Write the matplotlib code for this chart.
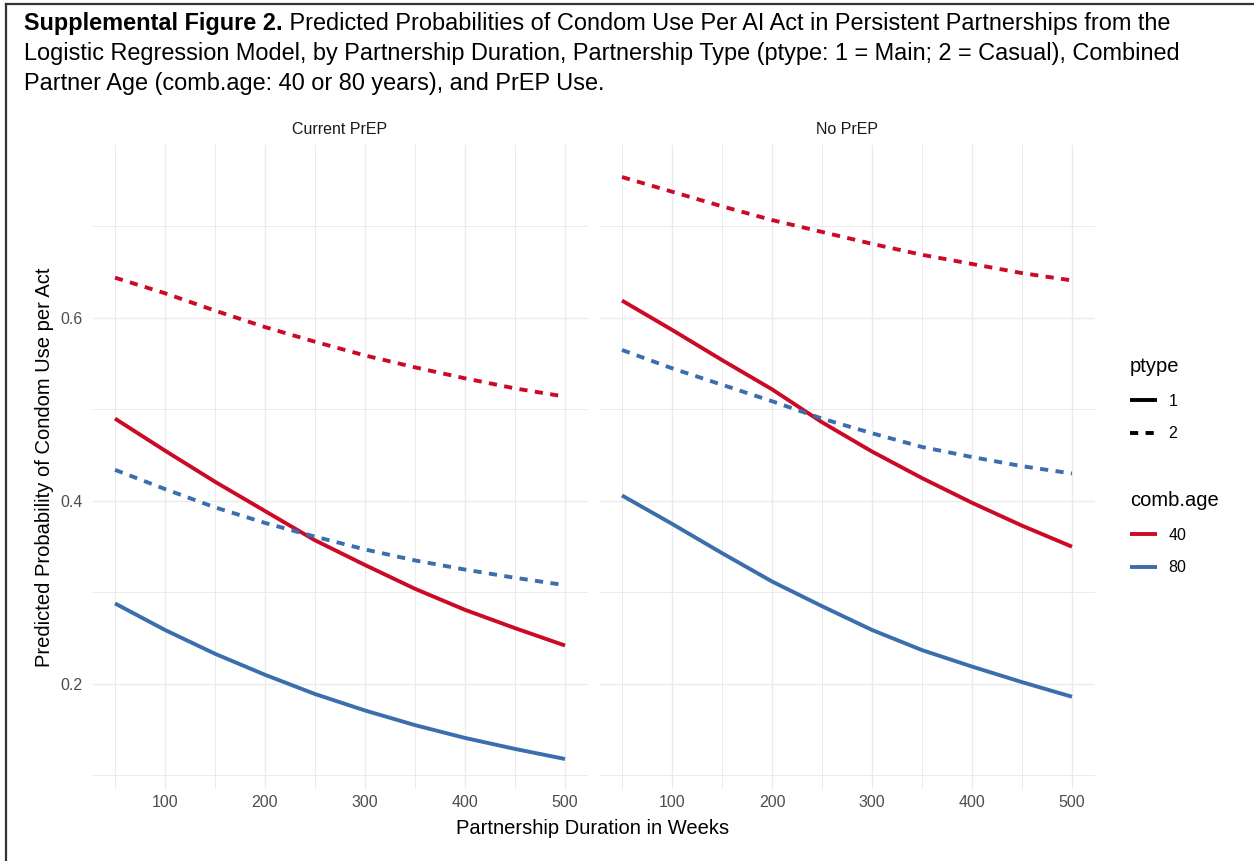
import numpy as np
import matplotlib
matplotlib.use("Agg")
import matplotlib.pyplot as plt
from matplotlib.lines import Line2D

plt.rcParams['font.family'] = ['Liberation Sans', 'DejaVu Sans']

# ---- data ----
weeks = [50, 100, 150, 200, 250, 300, 350, 400, 450, 500]
panels = ["Current PrEP", "No PrEP"]

# Current PrEP
cur_p1_a40 = [0.490, 0.455, 0.421, 0.389, 0.357, 0.330, 0.304, 0.281, 0.261, 0.242]
cur_p2_a40 = [0.644, 0.627, 0.608, 0.590, 0.574, 0.559, 0.546, 0.534, 0.523, 0.514]
cur_p1_a80 = [0.288, 0.259, 0.233, 0.210, 0.189, 0.171, 0.155, 0.141, 0.129, 0.118]
cur_p2_a80 = [0.434, 0.413, 0.393, 0.376, 0.361, 0.347, 0.335, 0.325, 0.316, 0.308]

# No PrEP
no_p1_a40 = [0.619, 0.587, 0.554, 0.522, 0.486, 0.454, 0.425, 0.398, 0.373, 0.350]
no_p2_a40 = [0.754, 0.738, 0.722, 0.707, 0.694, 0.681, 0.669, 0.659, 0.649, 0.641]
no_p1_a80 = [0.406, 0.375, 0.343, 0.312, 0.285, 0.259, 0.237, 0.219, 0.202, 0.186]
no_p2_a80 = [0.565, 0.545, 0.527, 0.509, 0.490, 0.474, 0.459, 0.448, 0.438, 0.430]

ptype_levels = ["1", "2"]
age_levels = ["40", "80"]

series = {
    "Current PrEP": [(cur_p1_a40, "1", "40"), (cur_p2_a40, "2", "40"),
                     (cur_p1_a80, "1", "80"), (cur_p2_a80, "2", "80")],
    "No PrEP": [(no_p1_a40, "1", "40"), (no_p2_a40, "2", "40"),
                (no_p1_a80, "1", "80"), (no_p2_a80, "2", "80")],
}

# ---- style ----
age_colors = {"40": "#CB0A26", "80": "#3A6EAD"}
DASH = (2.1, 1.9)
LW = 2.8
GRID = "#EBEBEB"

W, H = 1254, 861
fig = plt.figure(figsize=(W / 100, H / 100), dpi=100)


def px_axes(x0, y0, x1, y1):
    return fig.add_axes([x0 / W, 1 - y1 / H, (x1 - x0) / W, (y1 - y0) / H])


def line_style(ptype):
    if ptype == "2":
        return dict(dashes=DASH, dash_capstyle="butt")
    return dict(ls="-", solid_capstyle="butt")


axes = [px_axes(92.5, 145, 587.5, 789), px_axes(599.5, 145, 1094.5, 789)]

for ax, name in zip(axes, panels):
    for vals, ptype, age in series[name]:
        ax.plot(weeks, vals, color=age_colors[age], lw=LW, **line_style(ptype))
    ax.set_xlim(27.5, 522.5)
    ax.set_ylim(0.0852, 0.789)
    ax.set_xticks([100, 200, 300, 400, 500])
    ax.set_xticks([50, 150, 250, 350, 450], minor=True)
    ax.set_yticks([0.2, 0.4, 0.6])
    ax.set_yticks([0.1, 0.3, 0.5, 0.7], minor=True)
    ax.grid(True, which="major", color=GRID, lw=1.0)
    ax.grid(True, which="minor", color=GRID, lw=0.7)
    ax.set_axisbelow(True)
    for s in ax.spines.values():
        s.set_visible(False)
    ax.tick_params(which="both", length=0, labelsize=11.5, labelcolor="#4D4D4D")
    ax.tick_params(axis="x", pad=4)
    ax.tick_params(axis="y", pad=7)
    ax.text(0.5, 1 + 15 / 644, name, transform=ax.transAxes, ha="center",
            va="center", fontsize=11.5, color="#1A1A1A")

axes[1].tick_params(axis="y", labelleft=False)

fig.text(593 / W, 1 - 828 / H, "Partnership Duration in Weeks", ha="center",
         va="center", fontsize=14.5)
fig.text(45 / W, 1 - 467 / H, "Predicted Probability of Condom Use per Act",
         ha="center", va="center", rotation=90, fontsize=14.5)

# ---- legends ----
h_ptype = [Line2D([], [], color="black", lw=LW, **line_style(p)) for p in ptype_levels]
h_age = [Line2D([], [], color=age_colors[a], lw=LW, solid_capstyle="butt") for a in age_levels]
leg_kw = dict(loc="upper left", frameon=False, fontsize=11.5, title_fontsize=14.5,
              handlelength=1.7, handletextpad=0.7, labelspacing=1.1,
              alignment="left", borderpad=0, borderaxespad=0)
fig.legend(h_ptype, ptype_levels, title="ptype", bbox_to_anchor=(1130 / W, 1 - 357 / H), **leg_kw)
fig.legend(h_age, age_levels, title="comb.age", bbox_to_anchor=(1130 / W, 1 - 491 / H), **leg_kw)

# ---- caption ----
TS = 16.9
bold = fig.text(24 / W, 1 - 30 / H, "Supplemental Figure 2.", fontsize=TS,
                weight="bold", va="baseline")
fig.canvas.draw()
bb = bold.get_window_extent()
fig.text(bb.x1 / W, 1 - 30 / H,
         " Predicted Probabilities of Condom Use Per AI Act in Persistent Partnerships from the",
         fontsize=TS, va="baseline")
fig.text(24 / W, 1 - 60 / H,
         "Logistic Regression Model, by Partnership Duration, Partnership Type (ptype: 1 = Main; 2 = Casual), Combined",
         fontsize=TS, va="baseline")
fig.text(24 / W, 1 - 90 / H,
         "Partner Age (comb.age: 40 or 80 years), and PrEP Use.",
         fontsize=TS, va="baseline")

# frame lines on left and top
fig.add_artist(Line2D([6 / W, 6 / W], [0, 1 - 4 / H], color="#333333", lw=1.6))
fig.add_artist(Line2D([6 / W, 1], [1 - 4 / H, 1 - 4 / H], color="#333333", lw=1.6))

fig.savefig("out.png", dpi=100)
